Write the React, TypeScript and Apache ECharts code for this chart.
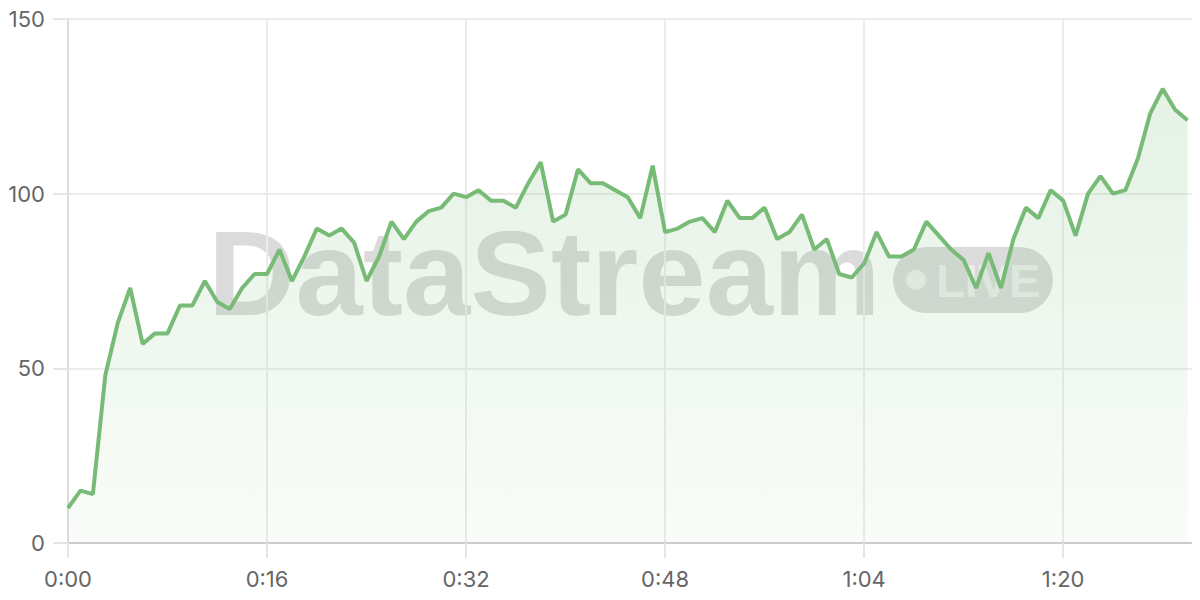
import React, { useEffect, useRef } from "react";
import * as echarts from "echarts";

const seconds: number[] = Array.from({ length: 91 }, (_, i) => i);
const values: number[] = [
  10, 15, 14, 48, 63, 73, 57, 60, 60, 68,
  68, 75, 69, 67, 73, 77, 77, 84, 75, 82,
  90, 88, 90, 86, 75, 82, 92, 87, 92, 95,
  96, 100, 99, 101, 98, 98, 96, 103, 109, 92,
  94, 107, 103, 103, 101, 99, 93, 108, 89, 90,
  92, 93, 89, 98, 93, 93, 96, 87, 89, 94,
  84, 87, 77, 76, 80, 89, 82, 82, 84, 92,
  88, 84, 81, 73, 83, 73, 87, 96, 93, 101,
  98, 88, 100, 105, 100, 101, 110, 123, 130, 124,
  121,
];
const yTicks = [0, 50, 100, 150];
const watermarkTitle = "DataStream";
const watermarkBadge = "LIVE";

function fmtTime(v: number): string {
  const m = Math.floor(v / 60);
  const s = Math.round(v % 60);
  return `${m}:${s < 10 ? "0" : ""}${s}`;
}

export default function App() {
  const ref = useRef<HTMLDivElement>(null);
  useEffect(() => {
    if (!ref.current) return;
    const chart = echarts.init(ref.current, null, { renderer: "svg" });
    const font = "Inter, 'Noto Sans', sans-serif";
    chart.setOption({
      animation: false,
      grid: { left: 68, right: 0, top: 19, bottom: 57 },
      xAxis: {
        type: "value",
        min: 0,
        max: 91,
        interval: 16,
        axisLine: { show: true, lineStyle: { color: "#cccccc", width: 2 } },
        axisTick: { show: true, length: 15, lineStyle: { color: "#e6e6e6", width: 2 } },
        splitLine: { show: true, lineStyle: { color: "#ececec", width: 2 } },
        axisLabel: {
          color: "#666666",
          fontSize: 22,
          fontFamily: font,
          margin: 25,
          formatter: (v: number) => fmtTime(v),
          showMaxLabel: false,
        },
      },
      yAxis: {
        type: "value",
        min: yTicks[0],
        max: yTicks[yTicks.length - 1],
        interval: 50,
        axisLine: { show: true, lineStyle: { color: "#dddddd", width: 2 } },
        axisTick: { show: true, length: 15, lineStyle: { color: "#e6e6e6", width: 2 } },
        splitLine: { show: true, lineStyle: { color: "#ececec", width: 2 } },
        axisLabel: { color: "#666666", fontSize: 22, fontFamily: font, margin: 23 },
      },
      graphic: [
        {
          type: "text",
          left: 208,
          top: 212,
          z: 0,
          style: {
            text: watermarkTitle,
            font: "bold 121px 'Liberation Sans', Arial, sans-serif",
            fill: "rgba(0,0,0,0.14)",
          },
        },
        {
          type: "rect",
          shape: { x: 893, y: 247, width: 160, height: 66, r: 33 },
          z: 0,
          style: { fill: "rgba(0,0,0,0.14)" },
        },
        {
          type: "circle",
          shape: { cx: 916, cy: 280, r: 10 },
          z: 1,
          style: { fill: "rgba(255,255,255,0.55)" },
        },
        {
          type: "text",
          left: 936,
          top: 257,
          z: 1,
          style: {
            text: watermarkBadge,
            font: "bold 47px 'Liberation Sans', Arial, sans-serif",
            fill: "rgba(255,255,255,0.5)",
          },
        },
      ],
      series: [
        {
          type: "line",
          data: seconds.map((s, i) => [s, values[i]]),
          showSymbol: false,
          symbol: "none",
          lineStyle: { color: "#77bb77", width: 4 },
          itemStyle: { color: "#77bb77" },
          z: 3,
          areaStyle: {
            color: new echarts.graphic.LinearGradient(0, 0, 0, 1, [
              { offset: 0, color: "rgba(119,187,119,0.28)" },
              { offset: 1, color: "rgba(119,187,119,0.06)" },
            ]),
          },
        },
      ],
    });
    return () => chart.dispose();
  }, []);
  return <div ref={ref} style={{ width: 1200, height: 600, margin: -8 }} />;
}
